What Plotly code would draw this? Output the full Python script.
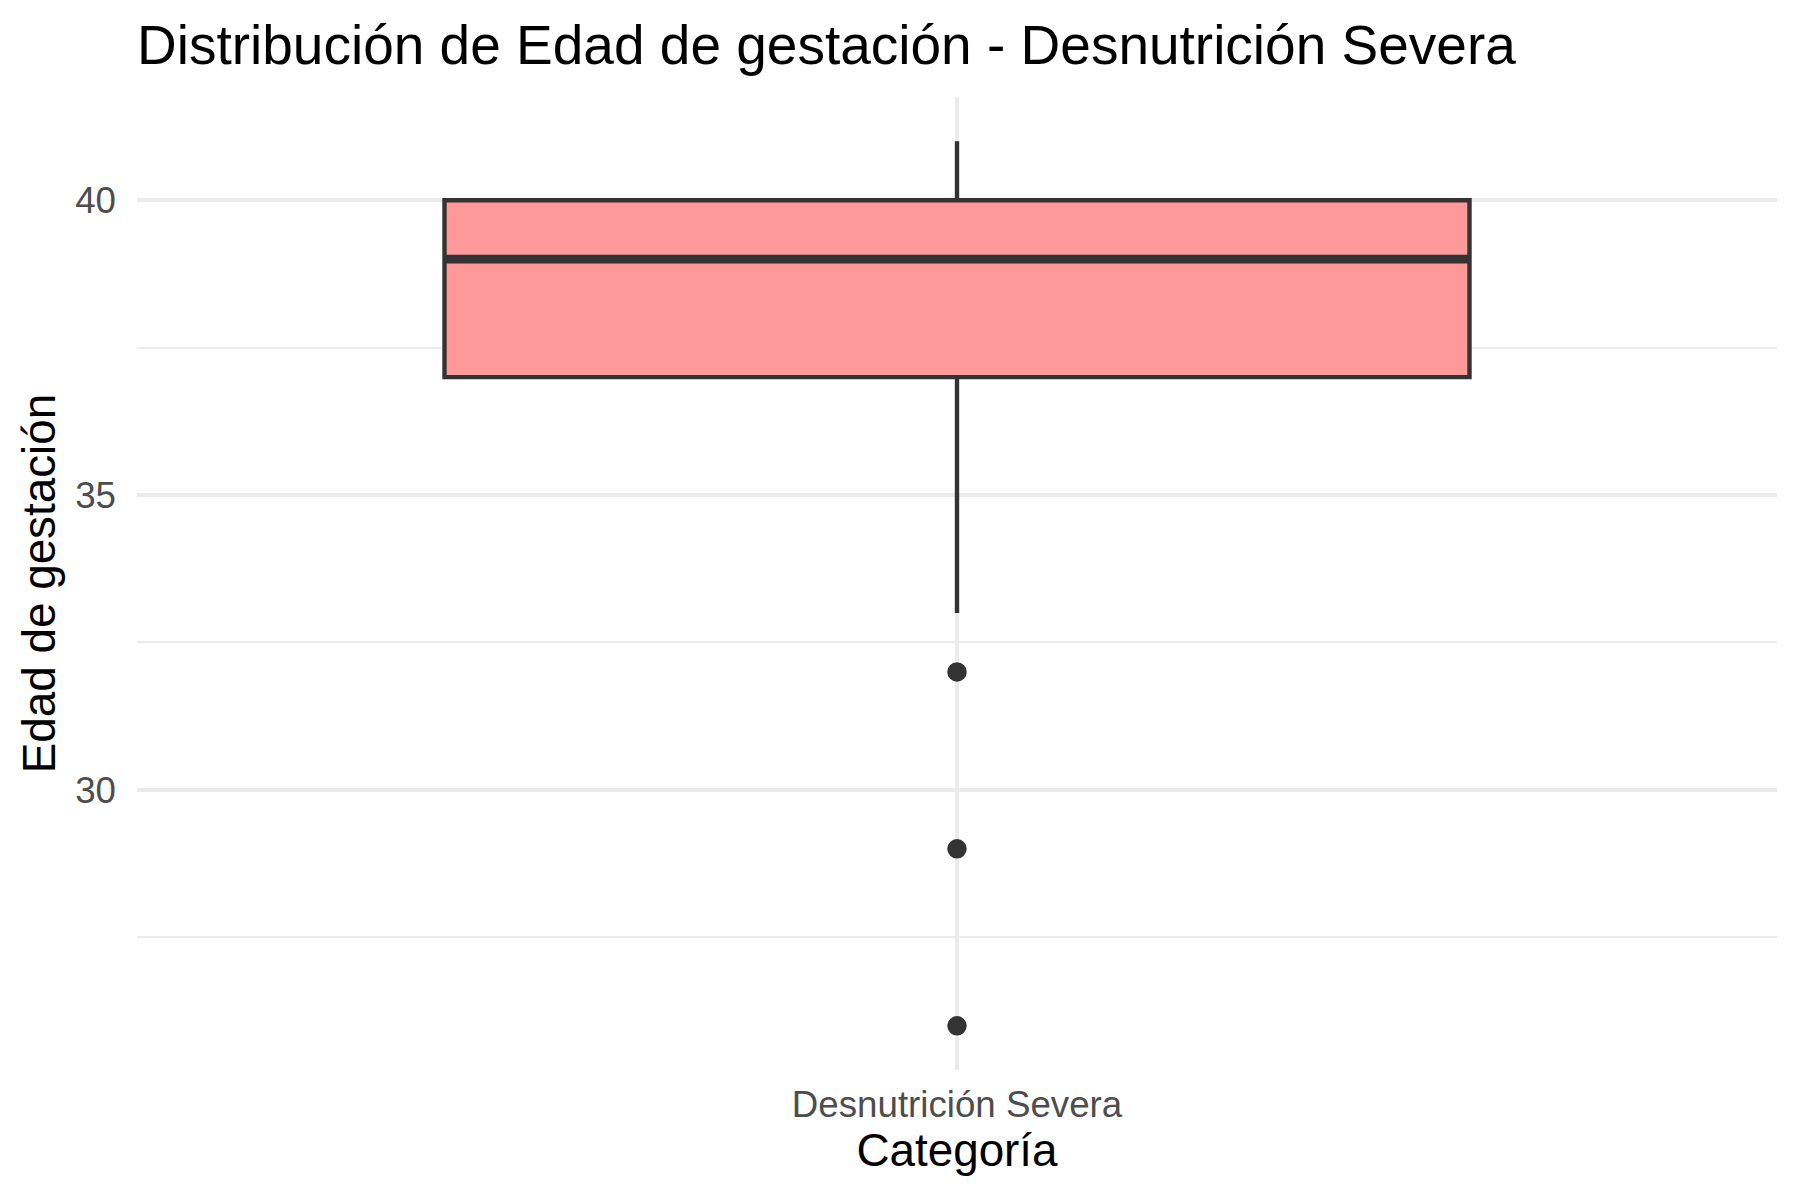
import plotly.graph_objects as go

# Data
categories = ["Desnutrición Severa"]
q1_vals = [37]
median_vals = [39]
q3_vals = [40]
lower_whisker = [33]
upper_whisker = [41]
outliers = [32, 29, 26]
y_ticks = [30, 35, 40]

title_text = "Distribución de Edad de gestación - Desnutrición Severa"
x_title = "Categoría"
y_title = "Edad de gestación"

FONT = "Liberation Sans, Arial, Helvetica, sans-serif"
BOX_W = 0.75
x_pos = list(range(len(categories)))

fig = go.Figure()

fig.add_trace(go.Box(
    x=x_pos,
    q1=q1_vals, median=median_vals, q3=q3_vals,
    lowerfence=lower_whisker, upperfence=upper_whisker,
    width=BOX_W,
    whiskerwidth=0,
    fillcolor="#FF9999",
    line=dict(color="#333333", width=4.4),
    boxpoints=False,
    showlegend=False,
    hoverinfo="skip",
))

# thicker median line (ggplot fatten = 2)
for xi, m in zip(x_pos, median_vals):
    fig.add_trace(go.Scatter(
        x=[xi - BOX_W / 2, xi + BOX_W / 2], y=[m, m],
        mode="lines", line=dict(color="#333333", width=8.9),
        showlegend=False, hoverinfo="skip",
    ))

# outliers
fig.add_trace(go.Scatter(
    x=[x_pos[0]] * len(outliers), y=outliers,
    mode="markers",
    marker=dict(color="#333333", size=19.5, line=dict(width=0)),
    showlegend=False, hoverinfo="skip",
))

all_vals = outliers + lower_whisker + upper_whisker + q1_vals + q3_vals
lo, hi = min(all_vals), max(all_vals)
pad = (hi - lo) * 0.05

fig.update_layout(
    width=1800, height=1200,
    paper_bgcolor="white", plot_bgcolor="white",
    margin=dict(l=137, r=23, t=97, b=130, autoexpand=False),
    font=dict(family=FONT, color="black"),
    title=dict(
        text=title_text,
        font=dict(family=FONT, size=55, color="black"),
        xref="paper", x=0, xanchor="left",
        yref="container", y=1 - 45 / 1200, yanchor="middle",
    ),
    xaxis=dict(
        range=[-0.6, 0.6],
        tickmode="array", tickvals=x_pos, ticktext=categories,
        tickfont=dict(size=36.7, color="#4D4D4D"),
        showgrid=True, gridcolor="#EBEBEB", gridwidth=4.4,
        zeroline=False, showline=False, ticks="",
        ticklabelstandoff=9,
        title=dict(text=x_title, font=dict(size=45.8, color="black"), standoff=8),
        automargin=False,
    ),
    yaxis=dict(
        range=[lo - pad, hi + pad],
        tickmode="array", tickvals=y_ticks,
        tickfont=dict(size=36.7, color="#4D4D4D"),
        showgrid=True, gridcolor="#EBEBEB", gridwidth=4.4,
        minor=dict(dtick=2.5, tick0=27.5, showgrid=True, gridcolor="#EBEBEB", gridwidth=2.2),
        zeroline=False, showline=False, ticks="",
        ticklabelstandoff=20,
        title=dict(text=y_title, font=dict(size=45.8, color="black"), standoff=5),
        automargin=False,
    ),
)

fig.write_html("out.html", config={"displayModeBar": False},
               post_script="document.body.style.margin='0px';")
